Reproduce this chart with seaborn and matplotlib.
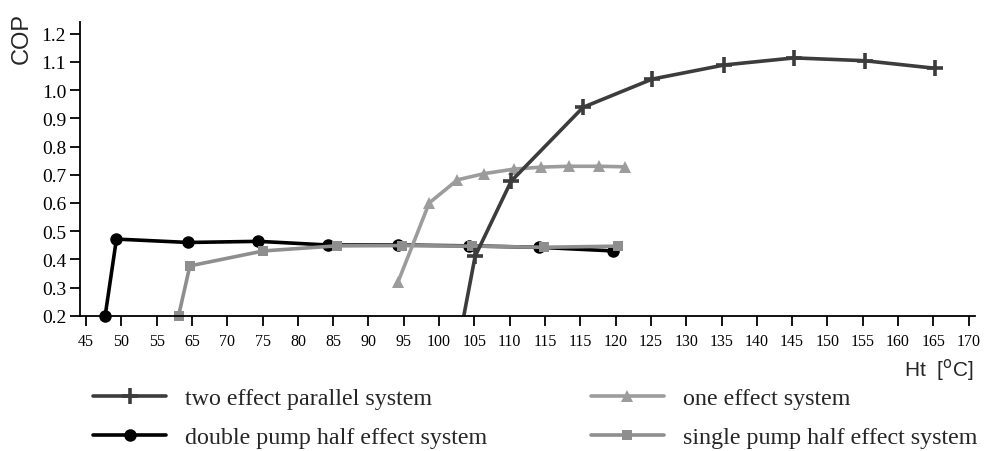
import numpy as np
import pandas as pd
import matplotlib
matplotlib.use('Agg')
from matplotlib import pyplot as plt
import seaborn as sns

# x values are in the axis' own (uniform) tick coordinate, ticks at 45..170 step 5
two_effect_x = [98.5, 100.1, 105.2, 115.4, 125.2, 135.4, 145.3, 155.3, 165.3]
two_effect_y = [0.20, 0.411, 0.677, 0.939, 1.039, 1.089, 1.114, 1.104, 1.077]
two_effect_mark = [False, True, True, True, True, True, True, True, True]

double_pump_x = [47.7, 49.3, 59.5, 69.4, 79.3, 89.2, 99.2, 109.1, 119.7]
double_pump_y = [0.20, 0.472, 0.460, 0.464, 0.451, 0.451, 0.448, 0.443, 0.430]

one_effect_x = [89.2, 93.6, 97.6, 101.4, 105.6, 109.5, 113.4, 117.6, 121.4]
one_effect_y = [0.321, 0.600, 0.682, 0.704, 0.720, 0.727, 0.730, 0.730, 0.728]

single_pump_x = [58.1, 59.7, 70.1, 80.5, 89.8, 99.6, 109.8, 120.4]
single_pump_y = [0.20, 0.377, 0.430, 0.448, 0.449, 0.447, 0.443, 0.447]

tick_pos = list(range(45, 171, 5))
tick_labels = ['45', '50', '55', '65', '70', '75', '80', '85', '90', '95', '100',
               '105', '110', '115', '115', '120', '125', '130', '135', '140',
               '145', '150', '155', '160', '165', '170']
y_ticks = [0.2, 0.3, 0.4, 0.5, 0.6, 0.7, 0.8, 0.9, 1.0, 1.1, 1.2]

sns.set_style("ticks")
plt.rcParams['font.family'] = ['Liberation Serif', 'DejaVu Serif']

fig = plt.figure(figsize=(10.01, 4.52), dpi=100)
ax = fig.add_axes([0.080, 0.299, 0.894, 0.650])

lw = 2.6
df = pd.DataFrame({'x': double_pump_x, 'y': double_pump_y})
sns.lineplot(data=df, x='x', y='y', ax=ax, color='black', lw=lw, marker='o',
             markersize=9, markeredgewidth=0, clip_on=False,
             label='double pump half effect system')

df = pd.DataFrame({'x': single_pump_x, 'y': single_pump_y})
sns.lineplot(data=df, x='x', y='y', ax=ax, color='#8e8e8e', lw=lw, marker='s',
             markersize=7.5, markeredgewidth=0, clip_on=False,
             label='single pump half effect system')

df = pd.DataFrame({'x': one_effect_x, 'y': one_effect_y})
sns.lineplot(data=df, x='x', y='y', ax=ax, color='#9c9c9c', lw=lw, marker='^',
             markersize=8, markeredgewidth=0, clip_on=False,
             label='one effect system')

df = pd.DataFrame({'x': two_effect_x, 'y': two_effect_y})
sns.lineplot(data=df, x='x', y='y', ax=ax, color='#3c3c3c', lw=lw, marker='+',
             markersize=11, markeredgewidth=2.6, markeredgecolor='#3c3c3c',
             markevery=two_effect_mark, label='two effect parallel system')

ax.set_xlim(44.15, 170.9)
ax.set_ylim(0.2, 1.241)
ax.set_xticks(tick_pos)
ax.set_xticklabels(tick_labels, fontsize=11.5)
ax.set_yticks(y_ticks)
ax.set_yticklabels(['%.1f' % v for v in y_ticks], fontsize=14)
ax.tick_params(axis='both', direction='out', length=7, width=1.3, colors='black', pad=3)
ax.tick_params(axis='x', pad=5)
for s in ['left', 'bottom']:
    ax.spines[s].set_linewidth(1.3)
    ax.spines[s].set_color('black')
sns.despine(ax=ax)
ax.set_xlabel('')
ax.set_ylabel('')
ax.legend_.remove()

fig.text(0.022, 0.915, 'COP', rotation=90, ha='center', va='center',
         fontsize=17, family=['Liberation Sans', 'DejaVu Sans'])
fig.text(0.972, 0.181, 'Ht  [$^{\\mathrm{o}}$C]', ha='right', va='center',
         fontsize=15, family=['Liberation Sans', 'DejaVu Sans'])

h, l = ax.get_legend_handles_labels()
order = [3, 0, 2, 1]
fig.legend([h[i] for i in order], [l[i] for i in order], ncol=2, frameon=False,
           loc='upper left', bbox_to_anchor=(0.093, 0.141), fontsize=17.3,
           handlelength=3.05, handletextpad=0.78, columnspacing=4.3, labelspacing=0.72,
           borderaxespad=0, borderpad=0)

fig.savefig('out.png', dpi=100, facecolor='white')
